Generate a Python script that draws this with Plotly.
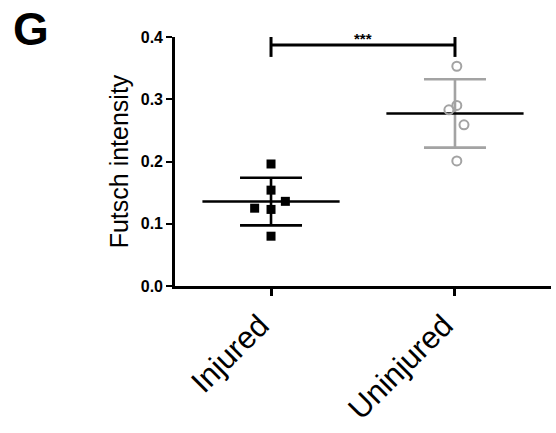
import numpy as np
import plotly.graph_objects as go

# Futsch intensity per animal
categories = ["Injured", "Uninjured"]
injured_values = [0.196, 0.154, 0.136, 0.125, 0.123, 0.080]
injured_jitter = [0.0, 0.0, 0.078, -0.089, 0.0, 0.0]
uninjured_values = [0.353, 0.290, 0.283, 0.259, 0.201]
uninjured_jitter = [0.01, 0.01, -0.033, 0.049, 0.01]
y_ticks = [0.0, 0.1, 0.2, 0.3, 0.4]
significance_label = "***"
significance_level = 0.387

FONT = "Liberation Sans, Arial, Helvetica, sans-serif"
GREY = "#a3a3a3"

groups = [
    (0, injured_values, injured_jitter, "square", 9, "black", "black", 0),
    (1, uninjured_values, uninjured_jitter, "circle-open", 9, GREY, GREY, 2),
]

fig = go.Figure()
for pos, vals, jit, symbol, size, color, err_color, lw in groups:
    vals = np.array(vals)
    mean = vals.mean()
    sd = vals.std(ddof=1)
    # mean bar (wide horizontal line) with SD whiskers
    fig.add_trace(go.Scatter(
        x=[pos], y=[mean], mode="markers",
        marker=dict(symbol="line-ew-open", size=98, color="black",
                    line=dict(color="black", width=2.6)),
        error_y=dict(type="data", array=[sd], visible=True,
                     color=err_color, thickness=2.6, width=31),
        showlegend=False, hoverinfo="skip",
    ))
    # individual points
    fig.add_trace(go.Scatter(
        x=[pos + j for j in jit], y=vals, mode="markers",
        marker=dict(symbol=symbol, size=size, color=color,
                    line=dict(color=color, width=lw)),
        showlegend=False, cliponaxis=False,
    ))

# significance bracket
bracket = dict(type="line", xref="x", yref="y",
               line=dict(color="black", width=3))
fig.add_shape(**bracket, x0=0, x1=1, y0=significance_level, y1=significance_level)
fig.add_shape(**bracket, x0=0, x1=0, y0=significance_level - 0.019, y1=significance_level + 0.016)
fig.add_shape(**bracket, x0=1, x1=1, y0=significance_level - 0.019, y1=significance_level + 0.016)
fig.add_annotation(x=0.5, y=significance_level, xref="x", yref="y",
                   text=significance_label, showarrow=False,
                   yanchor="bottom", yshift=-4,
                   font=dict(family=FONT, size=15, color="black", weight="bold"))

# panel letter
fig.add_annotation(x=-0.436, y=1.146, xref="paper", yref="paper",
                   text="G", showarrow=False, xanchor="left", yanchor="top",
                   font=dict(family=FONT, size=46, color="black", weight="bold"))

fig.update_layout(
    width=556, height=433,
    margin=dict(l=175, r=5, t=37, b=147, autoexpand=False),
    paper_bgcolor="white", plot_bgcolor="white",
    font=dict(family=FONT, color="black"),
    xaxis=dict(
        range=[-0.522, 1.522], tickmode="array", tickvals=[0, 1],
        ticktext=categories, tickangle=-45,
        tickfont=dict(family=FONT, size=31, color="black"),
        showline=True, linecolor="black", linewidth=2.6,
        ticks="outside", ticklen=7, tickwidth=2.6, tickcolor="black",
        showgrid=False, zeroline=False, ticklabelstandoff=-1,
        ticklabelshift=-11,
    ),
    yaxis=dict(
        range=[0, 0.4], tickmode="array", tickvals=y_ticks,
        ticktext=[f"{v:.1f}" for v in y_ticks],
        tickfont=dict(family=FONT, size=16, color="black", weight="bold"),
        showline=True, linecolor="black", linewidth=2.6,
        ticks="outside", ticklen=6, tickwidth=2, tickcolor="black",
        showgrid=False, zeroline=False,
        title=dict(text="Futsch intensity", standoff=6,
                   font=dict(family=FONT, size=25, color="black")),
    ),
)

fig.write_html("out.html")
